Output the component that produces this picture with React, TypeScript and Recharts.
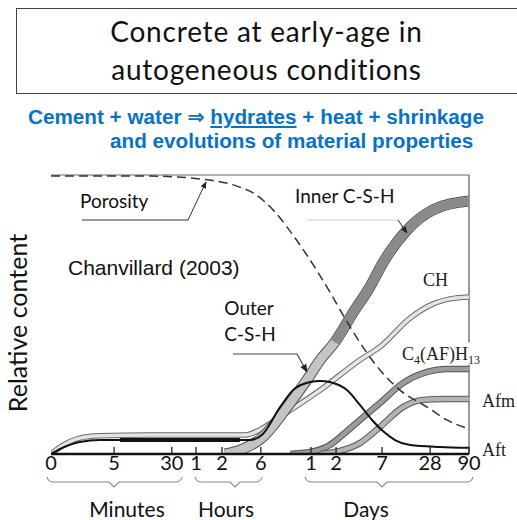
import { LineChart, Line, XAxis, YAxis, ReferenceLine } from 'recharts';

// x is the position along the (non-linear) time axis, 0..100
const TICK_POS = [0, 15.1, 28.9, 34.7, 40.9, 50.2, 62.2, 68.2, 79.2, 90.7, 100];
const TICK_LABELS = ['0', '5', '30', '1', '2', '6', '1', '2', '7', '28', '90'];

// [time position, relative content]
const POROSITY: [number, number][] = [
  [0, 99.6], [23.7, 99.6], [35.6, 98.6], [44.3, 96.1], [48.8, 93.2], [53.6, 86.7],
  [58.4, 77.4], [63.2, 66.7], [66.7, 58.1], [70.3, 48.7], [75.6, 36.2], [78.7, 30.1],
  [83.5, 22.9], [90.0, 16.8], [94.7, 12.2], [100, 9.0],
];
const CSH: [number, number][] = [
  [41.6, 0], [45.2, 1.4], [50.7, 6.1], [56.5, 16.8], [61.2, 26.5], [64.4, 33.7],
  [67.9, 40.1], [72.2, 50.5], [76.3, 59.9], [79.4, 68.5], [85.2, 80.3], [91.4, 87.5], [100, 90.7],
];
const INNER_FROM = 67.9;
const CH: [number, number][] = [
  [0, 0], [2.2, 2.5], [6.9, 5.7], [11.7, 6.5], [23.7, 6.8], [46.4, 6.8], [50.7, 9.3],
  [54.8, 13.3], [64.4, 22.9], [73.9, 33.7], [78.7, 38.4], [85.9, 48.7], [91.4, 53.8],
  [95.5, 55.6], [100, 56.3],
];
const C4AFH13: [number, number][] = [
  [57.2, 0], [62.0, 0.7], [66.7, 3.2], [70.3, 7.5], [73.9, 12.2], [78.7, 18.3],
  [84.2, 25.4], [90.0, 29.4], [94.7, 30.5], [100, 30.5],
];
const AFM: [number, number][] = [
  [64.4, 0], [69.1, 1.1], [73.9, 3.9], [78.7, 9.7], [84.2, 16.8], [89.0, 19.4],
  [94.3, 19.7], [100, 19.7],
];
const AFT: [number, number][] = [
  [0, 0], [2.2, 1.8], [6.9, 4.3], [11.7, 5.0], [47.6, 5.0], [50.7, 7.2], [54.8, 16.8],
  [57.9, 22.9], [62.0, 25.8], [64.4, 26.2], [66.7, 25.8], [70.8, 22.9], [73.9, 17.6],
  [76.8, 12.2], [79.4, 8.2], [82.3, 5.0], [85.9, 3.2], [93.1, 2.5], [100, 2.2],
];
const AFT_DORMANT: [number, number][] = [[16.5, 5.0], [45.2, 5.0]];

const pts = (a: [number, number][]) => a.map(([u, v]) => ({ u, v }));

const TimeTick = ({ x, y, payload }: any) => {
  const i = TICK_POS.indexOf(payload.value);
  return (
    <g>
      {i > 0 && <line x1={x} x2={x} y1={y - 7} y2={y} stroke="#222" strokeWidth={1.3} />}
      <text x={x} y={y + 16} textAnchor="middle" fontFamily="Lato" fontSize={20} fill="#111">
        {TICK_LABELS[i]}
      </text>
    </g>
  );
};

function band(key: string, data: [number, number][], edge: string, fill: string, w: number) {
  return [
    <Line key={key + '-o'} data={pts(data)} dataKey="v" type="monotone" stroke={edge}
      strokeWidth={w + 2} dot={false} isAnimationActive={false} />,
    <Line key={key + '-i'} data={pts(data)} dataKey="v" type="monotone" stroke={fill}
      strokeWidth={w} dot={false} isAnimationActive={false} />,
  ];
}

const label = { fontFamily: 'Lato', fontSize: 19, fill: '#111' };
const serif = { fontFamily: '"Liberation Serif"', fontSize: 18, fill: '#222' };

export default function App() {
  return (
    <div style={{ position: 'absolute', left: 0, top: 0, width: 517, height: 520, background: '#fff', overflow: 'hidden' }}>
      <div style={{
        position: 'absolute', left: 16, top: 8, width: 502, height: 84, border: '1.5px solid #444',
      }} />
      <div style={{
        position: 'absolute', left: 16, top: 12, width: 501, textAlign: 'center',
        fontFamily: 'Lato', fontSize: 28, letterSpacing: 0.8, lineHeight: '38px', color: '#111',
      }}>
        Concrete at early-age in<br />autogeneous conditions
      </div>
      <div style={{
        position: 'absolute', left: 28, top: 107, whiteSpace: 'nowrap', color: '#0872c6',
        fontFamily: '"Liberation Sans", "DejaVu Sans"', fontWeight: 'bold', fontSize: 20.7, lineHeight: '20.7px',
      }}>
        Cement + water ⇒ <span style={{ textDecoration: 'underline' }}>hydrates</span> + heat + shrinkage
      </div>
      <div style={{
        position: 'absolute', left: 110, top: 131, whiteSpace: 'nowrap', color: '#0872c6',
        fontFamily: '"Liberation Sans"', fontWeight: 'bold', fontSize: 20.7, lineHeight: '20.7px',
      }}>
        and evolutions of material properties
      </div>

      <div style={{ position: 'absolute', left: 0, top: 0 }}>
        <LineChart width={517} height={520} margin={{ top: 175, right: 48, left: 51, bottom: 6 }}>
          <XAxis dataKey="u" type="number" domain={[0, 100]} ticks={TICK_POS} interval={0}
            height={60} tickSize={0} tickMargin={0} tick={<TimeTick />} tickLine={false}
            axisLine={{ stroke: '#111', strokeWidth: 2.5 }} allowDataOverflow />
          <YAxis type="number" domain={[0, 100]} width={0} tick={false} tickLine={false}
            axisLine={{ stroke: '#111', strokeWidth: 2.5 }} allowDataOverflow />
          <ReferenceLine y={100} stroke="#666" strokeWidth={1} />
          <ReferenceLine segment={[{ x: 100, y: 100 }, { x: 100, y: 40 }]} stroke="#777" strokeWidth={1.5} />
          <ReferenceLine segment={[{ x: 100, y: 32 }, { x: 100, y: 0 }]} stroke="#777" strokeWidth={1.5} />

          {band('ch', CH, '#6a6a6a', '#e4e4e4', 3.5)}
          {band('c4', C4AFH13, '#555', '#9c9c9c', 4.5)}
          {band('afm', AFM, '#5a5a5a', '#b4b4b4', 4.5)}
          {band('csh', CSH, '#505050', '#c4c4c4', 9)}
          <Line data={pts(CSH.filter(([u]) => u >= INNER_FROM))} dataKey="v" type="monotone"
            stroke="#8a8a8a" strokeWidth={9} dot={false} isAnimationActive={false} />
          <Line data={pts(AFT)} dataKey="v" type="monotone" stroke="#111" strokeWidth={2}
            dot={false} isAnimationActive={false} />
          <Line data={pts(AFT_DORMANT)} dataKey="v" type="linear" stroke="#111" strokeWidth={4}
            dot={false} isAnimationActive={false} />
          <Line data={pts(POROSITY)} dataKey="v" type="monotone" stroke="#333" strokeWidth={1.5}
            strokeDasharray="9 5" dot={false} isAnimationActive={false} />
        </LineChart>
      </div>

      <svg width={517} height={520} style={{ position: 'absolute', left: 0, top: 0, pointerEvents: 'none' }}>
        <defs>
          <marker id="arr" viewBox="0 0 10 10" refX={9} refY={5} markerWidth={7} markerHeight={7} orient="auto">
            <path d="M0,1 L10,5 L0,9 z" fill="#222" />
          </marker>
        </defs>
        <polyline points="82,220 188,220 206,182" fill="none" stroke="#333" strokeWidth={1} markerEnd="url(#arr)" />
        <line x1={307} y1={220} x2={398} y2={220} stroke="#ccc" strokeWidth={1} />
        <line x1={398} y1={220} x2={407} y2={233} stroke="#222" strokeWidth={1} markerEnd="url(#arr)" />
        <polyline points="233,354 297,354 307,372" fill="none" stroke="#444" strokeWidth={1.2} markerEnd="url(#arr)" />

        <path d="M47,477 Q48,482 54,482 L109,482 L114,487 L119,482 L175,482 Q181,482 182,477" fill="none" stroke="#888" strokeWidth={1.2} />
        <path d="M195,477 Q196,482 202,482 L230,482 L235,487 L240,482 L255,482 Q261,482 262,477" fill="none" stroke="#888" strokeWidth={1.2} />
        <path d="M305,477 Q306,482 312,482 L377,482 L382,487 L387,482 L466,482 Q472,482 473,477" fill="none" stroke="#888" strokeWidth={1.2} />

        <text x={127} y={508} textAnchor="middle" dominantBaseline="central" {...label} fontSize={21}>Minutes</text>
        <text x={226} y={508} textAnchor="middle" dominantBaseline="central" {...label} fontSize={21}>Hours</text>
        <text x={366} y={508} textAnchor="middle" dominantBaseline="central" {...label} fontSize={21}>Days</text>

        <text x={17} y={323} transform="rotate(-90 17 323)" textAnchor="middle" dominantBaseline="central" {...label} fontSize={25}>Relative content</text>

        <text x={80} y={200} dominantBaseline="central" {...label}>Porosity</text>
        <text x={68} y={267} dominantBaseline="central" fontFamily='"Liberation Sans"' fontSize={21} fill="#111">Chanvillard (2003)</text>
        <text x={295} y={195} dominantBaseline="central" {...label}>Inner C-S-H</text>
        <text x={249} y={307} textAnchor="middle" dominantBaseline="central" {...label}>Outer</text>
        <text x={250} y={333} textAnchor="middle" dominantBaseline="central" {...label}>C-S-H</text>

        <text x={423} y={286} {...serif}>CH</text>
        <text x={402} y={360} {...serif}>
          C<tspan fontSize={12} dy={4}>4</tspan><tspan dy={-4}>(AF)H</tspan><tspan fontSize={12} dy={4}>13</tspan>
        </text>
        <text x={482} y={407} {...serif}>Afm</text>
        <text x={482} y={456} {...serif}>Aft</text>
      </svg>
    </div>
  );
}
